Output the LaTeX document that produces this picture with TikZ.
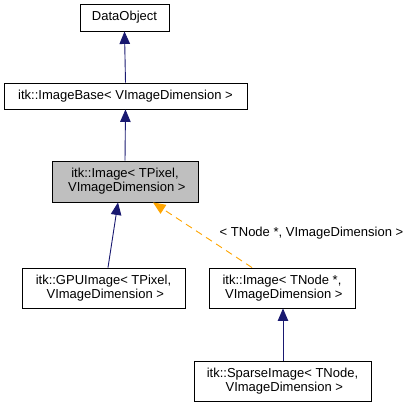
\documentclass[tikz,border=0pt]{standalone}
\usepackage{fontspec}
\setmainfont{Liberation Sans}
\usetikzlibrary{arrows.meta,calc}
\definecolor{edgeblue}{HTML}{191970}
\definecolor{edgeorange}{HTML}{FFA500}
\definecolor{boxgray}{HTML}{BFBFBF}
\newcommand{\lsp}{\hspace*{0.278em}}
\tikzset{
  cls/.style={draw=black,fill=white,line width=0.9pt,inner sep=0pt,align=center,
    font=\fontsize{13}{14}\selectfont},
  inherit/.style={draw=edgeblue,line width=0.9pt,-{Triangle[length=12.5pt,width=10.5pt]},fill=none},
  templ/.style={draw=edgeorange,line width=0.9pt,dash pattern=on 7pt off 5pt,
    -{Triangle[length=12.5pt,width=10.5pt,fill=edgeorange]}},
  lbl/.style={font=\fontsize{13}{14}\selectfont,inner sep=0pt}
}
\begin{document}
\begin{tikzpicture}[x=1pt,y=-1pt]
\useasboundingbox (0,0) rectangle (412,408);
\node[cls,minimum width=89pt,minimum height=27pt] (do) at (124.5,17.5) {DataObject};
\node[cls,minimum width=243pt,minimum height=26pt] (ib) at (125.5,96) {itk::ImageBase{<} VImageDimension {>}};
\node[cls,fill=boxgray,minimum width=146pt,minimum height=41pt] (img) at (125,181.5) {itk::Image{<} TPixel,\\\lsp VImageDimension {>}};
\node[cls,minimum width=163pt,minimum height=40pt] (gpu) at (103.5,288) {itk::GPUImage{<} TPixel,\\\lsp VImageDimension {>}};
\node[cls,minimum width=146pt,minimum height=40pt] (imgt) at (282,288) {itk::Image{<} TNode *,\\\lsp VImageDimension {>}};
\node[cls,minimum width=177pt,minimum height=40pt] (sp) at (282.5,381) {itk::SparseImage{<} TNode,\\\lsp VImageDimension {>}};
\draw[inherit] (ib.north) -- (do.south);
\draw[inherit] (img.north) -- (ib.south);
\draw[inherit] ([xshift=4.5pt]gpu.north) -- ([xshift=-7pt]img.south);
\draw[templ] ([xshift=-30pt]imgt.north) -- ([xshift=28pt]img.south);
\draw[inherit] ([xshift=0.5pt]sp.north) -- ([xshift=1pt]imgt.south);
\node[lbl] (tl) at (311.5,233) {{<} TNode *, VImageDimension {>}};
\end{tikzpicture}
\end{document}
